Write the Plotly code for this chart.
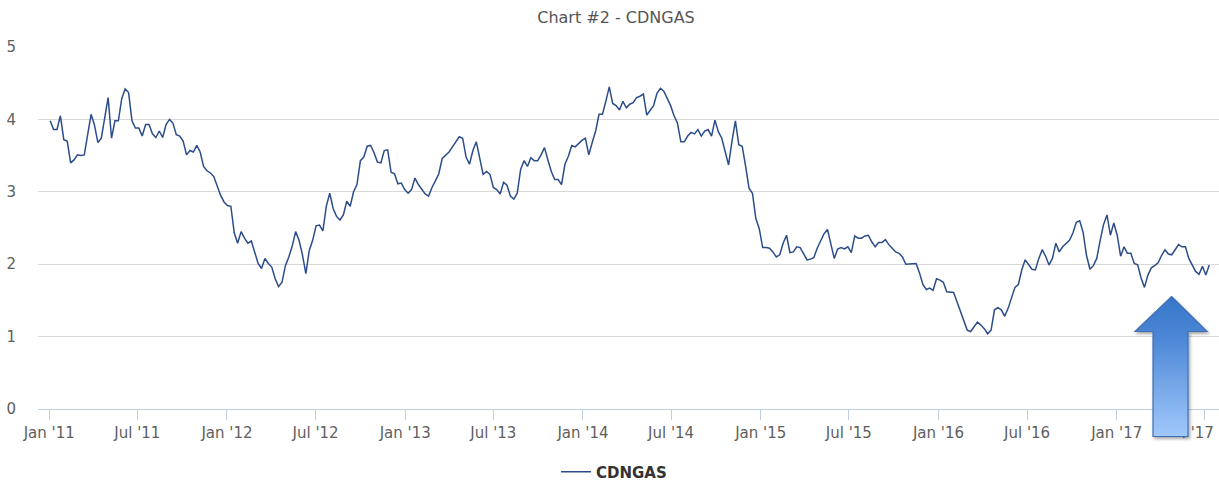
import base64
import pandas as pd
import plotly.graph_objects as go

# Weekly CDNGAS readings (Monday weeks starting 2011-01-03)
start_date = "2011-01-03"
cdngas_2011 = [3.98, 3.86, 3.86, 4.05, 3.72, 3.70, 3.40, 3.44, 3.51, 3.50, 3.51, 3.79, 4.07,
               3.92, 3.68, 3.74, 4.02, 4.30, 3.74, 3.98, 3.98, 4.29, 4.42, 4.37, 3.98, 3.88,
               3.88, 3.77, 3.93, 3.93, 3.80, 3.75, 3.84, 3.75, 3.93, 4.00, 3.95, 3.79, 3.77,
               3.70, 3.51, 3.57, 3.55, 3.64, 3.55, 3.35, 3.29, 3.26, 3.21, 3.07, 2.95, 2.86]
cdngas_2012 = [2.81, 2.80, 2.43, 2.29, 2.45, 2.36, 2.29, 2.32, 2.15, 2.01, 1.94, 2.08, 2.01,
               1.96, 1.80, 1.69, 1.75, 1.98, 2.10, 2.25, 2.45, 2.33, 2.13, 1.87, 2.19, 2.33,
               2.53, 2.54, 2.46, 2.80, 2.98, 2.77, 2.66, 2.61, 2.68, 2.87, 2.80, 3.00, 3.10,
               3.43, 3.48, 3.63, 3.64, 3.54, 3.41, 3.40, 3.57, 3.58, 3.27, 3.25, 3.11, 3.12]
cdngas_2013 = [3.03, 2.98, 3.03, 3.19, 3.10, 3.03, 2.97, 2.94, 3.06, 3.15, 3.25, 3.46, 3.51,
               3.55, 3.62, 3.70, 3.76, 3.74, 3.48, 3.38, 3.57, 3.69, 3.47, 3.24, 3.28, 3.24,
               3.06, 3.03, 2.97, 3.13, 3.09, 2.94, 2.90, 2.98, 3.31, 3.43, 3.35, 3.47, 3.43,
               3.43, 3.51, 3.61, 3.44, 3.28, 3.17, 3.17, 3.10, 3.38, 3.49, 3.64, 3.62, 3.67]
cdngas_2014 = [3.71, 3.74, 3.51, 3.68, 3.84, 4.07, 4.07, 4.25, 4.45, 4.22, 4.19, 4.13, 4.25,
               4.16, 4.21, 4.23, 4.30, 4.32, 4.35, 4.06, 4.12, 4.19, 4.36, 4.43, 4.39, 4.29,
               4.19, 4.05, 3.95, 3.69, 3.69, 3.77, 3.82, 3.80, 3.86, 3.77, 3.84, 3.86, 3.77,
               3.99, 3.83, 3.74, 3.55, 3.37, 3.70, 3.98, 3.65, 3.63, 3.35, 3.05, 2.98, 2.63]
cdngas_2015 = [2.49, 2.23, 2.23, 2.22, 2.17, 2.10, 2.13, 2.29, 2.40, 2.16, 2.17, 2.24, 2.23,
               2.15, 2.06, 2.07, 2.09, 2.22, 2.31, 2.42, 2.48, 2.26, 2.08, 2.21, 2.23, 2.21,
               2.24, 2.16, 2.39, 2.36, 2.36, 2.39, 2.40, 2.31, 2.24, 2.30, 2.30, 2.34, 2.27,
               2.22, 2.17, 2.15, 2.10, 2.00, 2.00, 2.01, 2.01, 1.88, 1.72, 1.65, 1.67, 1.64]
cdngas_2016 = [1.80, 1.78, 1.75, 1.62, 1.61, 1.61, 1.48, 1.35, 1.20, 1.09, 1.07, 1.13, 1.20,
               1.16, 1.11, 1.04, 1.09, 1.37, 1.40, 1.37, 1.28, 1.39, 1.52, 1.68, 1.72, 1.92,
               2.06, 1.99, 1.93, 1.92, 2.08, 2.20, 2.11, 1.99, 2.08, 2.29, 2.17, 2.24, 2.28,
               2.33, 2.43, 2.58, 2.60, 2.44, 2.12, 1.93, 1.98, 2.08, 2.33, 2.55, 2.68, 2.40]
cdngas_2017 = [2.57, 2.40, 2.11, 2.24, 2.15, 2.15, 2.01, 1.99, 1.81, 1.68, 1.85, 1.95, 1.98,
               2.02, 2.12, 2.20, 2.14, 2.13, 2.20, 2.27, 2.24, 2.24, 2.08, 1.99, 1.90, 1.86,
               1.97, 1.85, 1.99]

tick_dates = ["2011-01-01", "2011-07-01", "2012-01-01", "2012-07-01", "2013-01-01",
              "2013-07-01", "2014-01-01", "2014-07-01", "2015-01-01", "2015-07-01",
              "2016-01-01", "2016-07-01", "2017-01-01", "2017-07-01"]
tick_labels = ["Jan '11", "Jul '11", "Jan '12", "Jul '12", "Jan '13", "Jul '13", "Jan '14",
               "Jul '14", "Jan '15", "Jul '15", "Jan '16", "Jul '16", "Jan '17", "Jul '17"]
y_ticks = [0, 1, 2, 3, 4, 5]

values = (cdngas_2011 + cdngas_2012 + cdngas_2013 + cdngas_2014 +
          cdngas_2015 + cdngas_2016 + cdngas_2017)
dates = pd.date_range(start_date, periods=len(values), freq="7D")

# Last label: justified inside the chart edge, its first letters hidden behind the arrow
last = tick_labels[-1]
last_label = "<span style='color:rgba(0,0,0,0)'>" + last[:2] + "</span>" + last[2:]

W, H = 1219, 481
ML, MR, MT, MB = 38, 0, 47, 72
PW, PH = W - ML - MR, H - MT - MB
X_RANGE = ["2010-12-09", "2017-07-30"]

FONT = "DejaVu Sans"
TICK_FONT = dict(family=FONT, size=15, color="#606060")

fig = go.Figure()
fig.add_trace(go.Scatter(
    x=dates, y=values, mode="lines", name="CDNGAS",
    line=dict(color="#2c4d8a", width=1.5),
))
# invisible helper so the secondary x axis (carrying the justified last label) renders
fig.add_trace(go.Scatter(
    x=[dates[0]], y=[values[0]], xaxis="x2", mode="markers",
    marker=dict(opacity=0), showlegend=False, hoverinfo="skip",
))

# Blue up-arrow callout (SVG with gradient)
ax0, ay0, aw, ah = 1125, 290, 94, 160
svg = f'''<svg xmlns="http://www.w3.org/2000/svg" width="{aw}" height="{ah}" viewBox="0 0 {aw} {ah}">
<defs>
<linearGradient id="g" x1="0" y1="0" x2="0" y2="1">
<stop offset="0" stop-color="#3676c8"/>
<stop offset="0.3" stop-color="#4d87d6"/>
<stop offset="1" stop-color="#a0c8fb"/>
</linearGradient>
<filter id="s" x="-30%" y="-30%" width="160%" height="160%">
<feDropShadow dx="1.5" dy="2" stdDeviation="1.5" flood-color="#000" flood-opacity="0.35"/>
</filter>
</defs>
<polygon points="46.5,6.5 82,41.5 63,41.5 63,146.5 28,146.5 28,41.5 10,41.5"
 fill="url(#g)" stroke="#3f6fb0" stroke-width="1.2" filter="url(#s)"/>
</svg>'''
src = "data:image/svg+xml;base64," + base64.b64encode(svg.encode()).decode()
fig.add_layout_image(dict(
    source=src, xref="paper", yref="paper",
    x=(ax0 - ML) / PW, y=(MT + PH - ay0) / PH,
    sizex=aw / PW, sizey=ah / PH,
    xanchor="left", yanchor="top", sizing="stretch", layer="above",
))

fig.update_layout(
    width=W, height=H,
    margin=dict(l=ML, r=MR, t=MT, b=MB, autoexpand=False),
    paper_bgcolor="white", plot_bgcolor="white",
    font=dict(family=FONT, color="#606060"),
    title=dict(text="Chart #2 - CDNGAS", x=616 / W, xref="container", xanchor="center",
               y=1 - 17 / H, yref="container", yanchor="middle",
               font=dict(family=FONT, size=16, color="#555555")),
    showlegend=True,
    legend=dict(orientation="h", xref="container", yref="container",
                x=556 / W, xanchor="left", y=1 - 472 / H, yanchor="middle",
                font=dict(family=FONT, size=15, color="#333333", weight="bold"),
                bgcolor="rgba(0,0,0,0)"),
    xaxis=dict(
        range=X_RANGE,
        tickvals=tick_dates, ticktext=tick_labels[:-1] + [""],
        ticks="outside", ticklen=10, tickcolor="#C0D0E0", tickwidth=1,
        showline=True, linecolor="#C0D0E0", linewidth=1,
        showgrid=False, zeroline=False, automargin=False,
        tickfont=TICK_FONT,
    ),
    xaxis2=dict(
        range=X_RANGE, overlaying="x", anchor="y", side="bottom",
        tickvals=tick_dates[-1:], ticktext=[last_label],
        ticks="outside", ticklen=10, tickcolor="rgba(0,0,0,0)",
        ticklabelshift=-14, ticklabeloverflow="allow",
        showline=False, showgrid=False, zeroline=False, automargin=False,
        tickfont=TICK_FONT,
    ),
    yaxis=dict(
        range=[0, 5], tickvals=y_ticks,
        showgrid=True, gridcolor="#D8D8D8", gridwidth=1,
        zeroline=False, showline=False,
        ticks="outside", ticklen=18, tickcolor="rgba(0,0,0,0)",
        automargin=False,
        tickfont=TICK_FONT,
    ),
)

fig.write_html(
    "out.html",
    config={"displayModeBar": False},
    post_script="document.body.style.margin='0';document.body.style.overflow='hidden';",
)
